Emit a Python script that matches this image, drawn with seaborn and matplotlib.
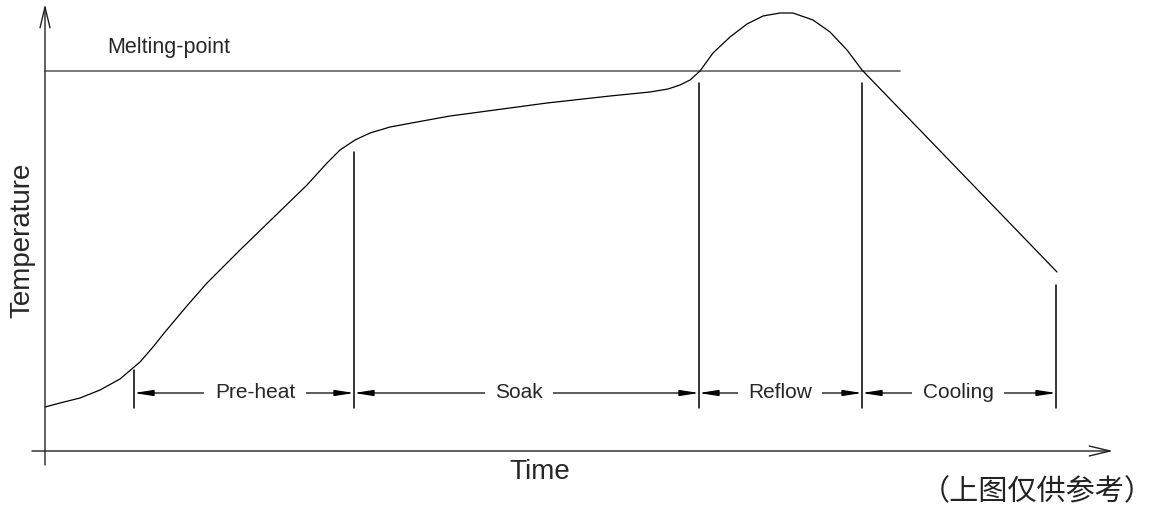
"""Reflow soldering temperature profile (schematic)."""

import matplotlib
matplotlib.use('Agg')
import matplotlib.pyplot as plt
import pandas as pd
import seaborn as sns

# profile curve (time, temperature in drawing units)
time = [45, 60, 80, 100, 120, 140, 153, 165, 186, 207, 240, 273, 307, 327,
        340, 355, 370, 390, 417, 450, 480, 547, 610, 650, 668, 680, 690, 700,
        713, 730, 747, 763, 780, 793, 813, 830, 847, 862, 1057]
temp = [107, 111, 116, 124, 135, 152, 167, 182, 207, 231, 264, 296, 329, 351,
        364, 374, 381, 387, 392, 398, 402, 411, 418, 422, 425, 429, 434, 443,
        461, 477, 490, 498, 501, 501, 494, 482, 464, 444, 242]

melting_point = 443
melting_span = [45, 900]

# phase boundaries and the height of each marker line
bounds = [134, 354, 699, 862, 1056]
bound_tops = [144, 362, 431, 431, 229]
bound_bottom = 106
dim_level = 121

phases = ['Pre-heat', 'Soak', 'Reflow', 'Cooling']
phase_label_x = [255, 519, 780, 958]

origin = (45, 63)
x_axis_end = 1113
y_axis_end = 510

sns.set_style('white')
plt.rcParams['font.family'] = ['Liberation Sans', 'Noto Sans CJK SC', 'DejaVu Sans']

fig = plt.figure(figsize=(11.57, 5.14), dpi=100)
ax = fig.add_axes([0, 0, 1, 1])
ax.set_xlim(0, 1157)
ax.set_ylim(0, 514)
ax.axis('off')

# axes with open arrow heads
axis_style = dict(arrowstyle='->,head_length=1.5,head_width=0.36', lw=1.0,
                  color='#222222', shrinkA=0, shrinkB=0, mutation_scale=10)
ax.annotate('', xy=(origin[0], y_axis_end), xytext=(origin[0], 49),
            arrowprops=axis_style)
ax.annotate('', xy=(x_axis_end, origin[1]), xytext=(32, origin[1]),
            arrowprops=axis_style)

# melting point
ax.plot(melting_span, [melting_point, melting_point], color='#707070', lw=1.3)
ax.text(107, 466, 'Melting-point', fontsize=15.5, ha='left', va='center')

# profile curve
profile = pd.DataFrame({'time': time, 'temp': temp})
sns.lineplot(data=profile, x='time', y='temp', sort=False, estimator=None,
             color='black', lw=0.9, ax=ax)
ax.lines[-1].set_solid_joinstyle('round')

# phase boundary markers
for bx, top in zip(bounds, bound_tops):
    ax.plot([bx, bx], [bound_bottom, top], color='black', lw=1.1)

# dimension arrows with labels
dim_style = dict(arrowstyle='<|-|>,head_length=1.15,head_width=0.18', lw=0.9,
                 color='black', shrinkA=0, shrinkB=0, mutation_scale=10)
for i, name in enumerate(phases):
    ax.annotate('', xy=(bounds[i], dim_level), xytext=(bounds[i + 1], dim_level),
                arrowprops=dim_style)
    ax.text(phase_label_x[i], dim_level, name, fontsize=15, ha='center',
            va='center', bbox=dict(boxstyle='square,pad=0.5', fc='white',
                                   ec='none'))

ax.text(540, 42, 'Time', fontsize=20, ha='center', va='center')
ax.text(22, 274, 'Temperature', fontsize=20, ha='center', va='center',
        rotation=90)
ax.text(1037, 22, '（上图仅供参考）', fontsize=21, ha='center', va='center',
        family=['Noto Sans CJK SC', 'DejaVu Sans'], color='#222222')

fig.savefig('out.png', dpi=100)
